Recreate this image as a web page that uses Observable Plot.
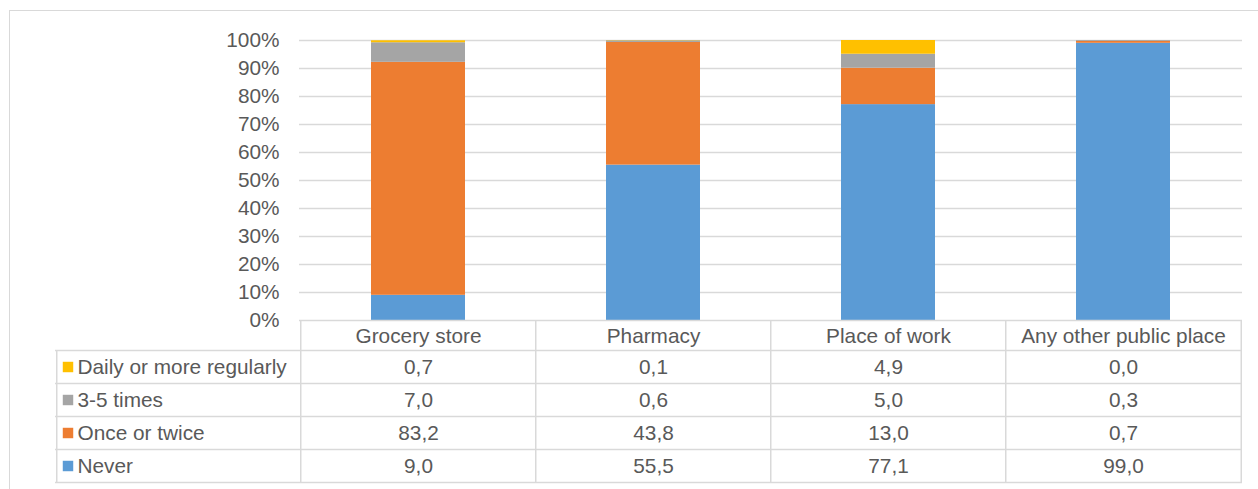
<!DOCTYPE html>
<html>
<head>
<meta charset="utf-8">
<script src="https://cdn.jsdelivr.net/npm/d3@7"></script>
<script src="https://cdn.jsdelivr.net/npm/@observablehq/plot@0.6"></script>
<style>
  html, body { margin: 0; padding: 0; background: #fff; overflow: hidden; }
  #wrap { position: relative; width: 1258px; height: 489px; }
  #border { position: absolute; left: 9px; top: 10px; width: 1260px; height: 490px;
            border: 1.5px solid #d9d9d9; box-sizing: border-box; pointer-events: none; }
  svg { font-family: "Liberation Sans", Arial, sans-serif; }
</style>
</head>
<body>
<div id="wrap"><div id="border"></div></div>
<script>
const categories = ["Grocery store", "Pharmacy", "Place of work", "Any other public place"];
const seriesNames = ["Never", "Once or twice", "3-5 times", "Daily or more regularly"];
const never = [9.0, 55.5, 77.1, 99.0];
const onceOrTwice = [83.2, 43.8, 13.0, 0.7];
const threeToFive = [7.0, 0.6, 5.0, 0.3];
const daily = [0.7, 0.1, 4.9, 0.0];
const colors = ["#5b9bd5", "#ed7d31", "#a5a5a5", "#ffc000"];
const yTicks = [0, 10, 20, 30, 40, 50, 60, 70, 80, 90, 100];

const seriesValues = [never, onceOrTwice, threeToFive, daily];
const long = [];
categories.forEach((c, i) => {
  seriesNames.forEach((s, k) => long.push({category: c, series: s, value: seriesValues[k][i]}));
});

const fmt = v => v.toFixed(1).replace(".", ",");
const FS = 20.8;
const TXT = "#595959";
const LINE = "#d9d9d9";
const LW = 1.5;

// table rows, top to bottom (reverse of stacking order)
const rowOrder = [3, 2, 1, 0];
const rowDy = [46.5, 79.5, 112.5, 145.5];
const lineDy = [30, 63, 96, 129, 162];
const halfStep = 117.75;
const labelCol = 244;

const marks = [
  Plot.ruleY(yTicks.filter(d => d > 0), {stroke: LINE, strokeWidth: LW}),
  Plot.barY(long, {x: "category", y: "value", fill: "series"}),
  Plot.axisY({ticks: yTicks, tickFormat: d => d + "%", tickSize: 0, tickPadding: 20, fontSize: FS, fill: TXT, label: null}),
  // table: top line of header row
  Plot.ruleY([0], {stroke: LINE, strokeWidth: LW}),
  // table horizontal lines
  ...lineDy.map(dy => Plot.ruleY([0], {dy, insetLeft: -labelCol, stroke: LINE, strokeWidth: LW})),
  // vertical lines
  Plot.ruleX(categories, {x: d => d, dx: -halfStep, insetTop: 280, insetBottom: -162, stroke: LINE, strokeWidth: LW}),
  Plot.ruleX([categories[categories.length - 1]], {x: d => d, dx: halfStep, insetTop: 280, insetBottom: -162, stroke: LINE, strokeWidth: LW}),
  Plot.ruleX([categories[0]], {x: d => d, dx: -halfStep - labelCol, insetTop: 310, insetBottom: -162, stroke: LINE, strokeWidth: LW}),
  // header row
  Plot.text(categories, {x: d => d, frameAnchor: "bottom", lineAnchor: "middle", dy: 15.4, fontSize: FS, fill: TXT}),
  // value rows
  ...rowOrder.flatMap((k, r) => [
    Plot.text(categories, {x: d => d, text: (d, i) => fmt(seriesValues[k][i]), frameAnchor: "bottom", lineAnchor: "middle", dy: rowDy[r], fontSize: FS, fill: TXT}),
    Plot.text([seriesNames[k]], {text: d => d, frameAnchor: "bottom-left", lineAnchor: "middle", dx: -222, dy: rowDy[r], textAnchor: "start", fontSize: FS, fill: TXT}),
    Plot.dot([seriesNames[k]], {frameAnchor: "bottom-left", dx: -231.5, dy: rowDy[r], symbol: "square", r: 5.9, fill: colors[k], stroke: "none"})
  ])
];

const chart = Plot.plot({
  width: 1258,
  height: 489,
  marginTop: 40,
  marginBottom: 169,
  marginLeft: 299,
  marginRight: 16,
  style: {background: "transparent", color: TXT, fontFamily: "'Liberation Sans', Arial, sans-serif", fontSize: FS + "px", overflow: "visible"},
  x: {domain: categories, paddingInner: 0.6, paddingOuter: 0.3, axis: null},
  y: {domain: [0, 100], axis: null},
  color: {domain: seriesNames, range: colors},
  marks
});
chart.style.position = "absolute";
chart.style.left = "0px";
chart.style.top = "0px";
document.getElementById("wrap").appendChild(chart);
</script>
</body>
</html>
